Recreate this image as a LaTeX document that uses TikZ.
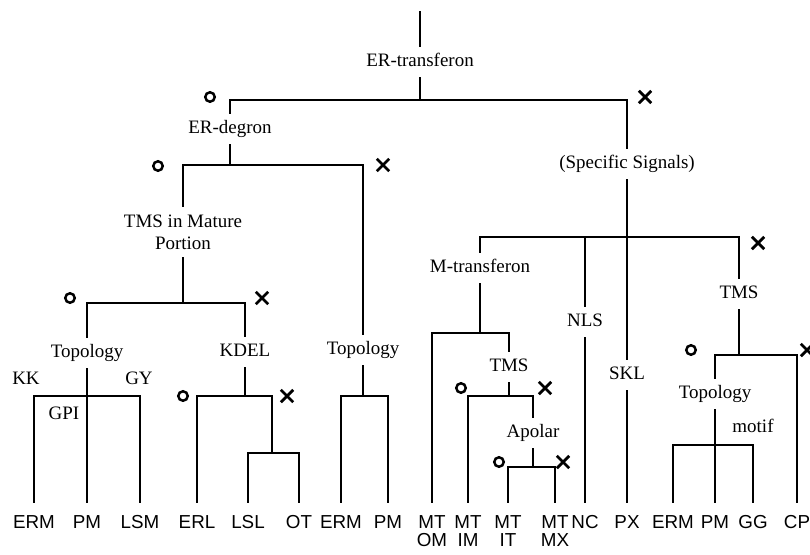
\documentclass[tikz,border=0pt]{standalone}
\usepackage{fontspec}
\setmainfont{Liberation Serif}
\newfontfamily\leaffont{Liberation Sans}
\usetikzlibrary{shapes.misc}

\begin{document}
\begin{tikzpicture}
	[x=0.02cm,y=-0.02cm,
	sig/.style={inner xsep=1pt, inner ysep=4.5pt, font=\fontsize{10.8}{12.5}\selectfont},
	lab/.style={sig, text height=7pt, text depth=2.3pt},
	leaf/.style={anchor=north, inner xsep=0pt, inner ysep=7.4pt, align=center, font=\leaffont\fontsize{10.7}{10.3}\selectfont},
	yes/.style={circle, draw, line width=1.4pt, minimum size=5.4pt, inner sep=0pt},
	no/.style={cross out, draw, line width=1.6pt, minimum size=5.4pt, inner sep=0pt}]
	\tikzstyle{edges} = [line width=1.1pt, line cap=rect];
	\clip (0,0) rectangle (810,554);

	% upper levels
	\coordinate (top) at (420,12);
	\node[lab] (ert) at (420,62) {ER-transferon};
	\coordinate (b1l) at (230,100);
	\coordinate (b1m) at (420,100);
	\coordinate (b1r) at (627,100);
	\node[lab] (erd) at (230,129) {ER-degron};
	\node[lab] (ss) at (627,164) {(Specific Signals)};
	\coordinate (b2l) at (183,165);
	\coordinate (b2m) at (230,165);
	\coordinate (b2r) at (363,165);
	\node[sig,align=center] (tms1) at (183,232) {TMS in Mature\\Portion};
	\node[lab] (topo2) at (363,350) {Topology};

	% left part
	\coordinate (b3l) at (87,303);
	\coordinate (b3m) at (183,303);
	\coordinate (b3r) at (245,303);
	\node[lab] (topo1) at (87,353) {Topology};
	\node[lab] (kdel) at (245,352) {KDEL};
	\coordinate (b4l) at (34,396);
	\coordinate (b4r) at (140,396);
	\node[lab] (kk) at (26,380) {KK};
	\node[lab] (gy) at (139,380) {GY};
	\node[lab] (gpi) at (64,415) {GPI};
	\coordinate (b5l) at (197,396);
	\coordinate (b5m) at (245,396);
	\coordinate (b5r) at (272,396);
	\coordinate (b6l) at (248,453);
	\coordinate (b6m) at (272,453);
	\coordinate (b6r) at (299,453);
	\coordinate (b7l) at (341,396);
	\coordinate (b7m) at (363,396);
	\coordinate (b7r) at (388,396);

	% right part
	\coordinate (b8l) at (480,237);
	\coordinate (b8n) at (585,237);
	\coordinate (b8r) at (739,237);
	\node[lab] (mtr) at (480,268) {M-transferon};
	\node[lab] (nls) at (585,322) {NLS};
	\node[lab] (skl) at (627,375) {SKL};
	\node[lab] (tms3) at (739,294) {TMS};
	\coordinate (b9l) at (432,333);
	\coordinate (b9m) at (480,333);
	\coordinate (b9r) at (509,333);
	\node[lab] (tms2) at (509,367) {TMS};
	\coordinate (b10l) at (468,396);
	\coordinate (b10m) at (509,396);
	\coordinate (b10r) at (533,396);
	\node[lab] (apo) at (533,433) {Apolar};
	\coordinate (b11l) at (508,467);
	\coordinate (b11m) at (533,467);
	\coordinate (b11r) at (555,467);
	\coordinate (b12l) at (715,355);
	\coordinate (b12m) at (739,355);
	\coordinate (b12r) at (797,355);
	\node[lab] (topo3) at (715,394) {Topology};
	\node[lab] (motif) at (753,428) {motif};
	\coordinate (b13l) at (673,445);
	\coordinate (b13r) at (753,445);

	% leaves
	\node[leaf] (erm1) at (34,502) {ERM};
	\node[leaf] (pm1) at (87,502) {PM};
	\node[leaf] (lsm) at (140,502) {LSM};
	\node[leaf] (erl) at (197,502) {ERL};
	\node[leaf] (lsl) at (248,502) {LSL};
	\node[leaf] (ot) at (299,502) {OT};
	\node[leaf] (erm2) at (341,502) {ERM};
	\node[leaf] (pm2) at (388,502) {PM};
	\node[leaf] (mtom) at (432,502) {MT\\OM};
	\node[leaf] (mtim) at (468,502) {MT\\IM};
	\node[leaf] (mtit) at (508,502) {MT\\IT};
	\node[leaf] (mtmx) at (555,502) {MT\\MX};
	\node[leaf] (nc) at (585,502) {NC};
	\node[leaf] (px) at (627,502) {PX};
	\node[leaf] (erm3) at (673,502) {ERM};
	\node[leaf] (pm3) at (715,502) {PM};
	\node[leaf] (gg) at (753,502) {GG};
	\node[leaf] (cp) at (797,502) {CP};

	% o / x marks
	\node[yes] (y1) at (210,97) {};
	\node[no] (n1) at (645,97) {};
	\node[yes] (y2) at (158,166) {};
	\node[no] (n2) at (383,165) {};
	\node[yes] (y3) at (70,298) {};
	\node[no] (n3) at (262,298) {};
	\node[yes] (y4) at (183,396) {};
	\node[no] (n4) at (287,396) {};
	\node[no] (n5) at (758,243) {};
	\node[yes] (y6) at (461,388) {};
	\node[no] (n6) at (545,388) {};
	\node[yes] (y7) at (499,462) {};
	\node[no] (n7) at (563,462) {};
	\node[yes] (y8) at (691,350) {};
	\node[no] (n8) at (807,350) {};

	\draw[edges] (top) -- (ert);
	\draw[edges] (ert) -- (b1m);
	\draw[edges] (b1l) -- (b1r);
	\draw[edges] (b1l) -- (erd);
	\draw[edges] (b1r) -- (ss);
	\draw[edges] (erd) -- (b2m);
	\draw[edges] (b2l) -- (b2r);
	\draw[edges] (b2l) -- (tms1);
	\draw[edges] (b2r) -- (topo2);
	\draw[edges] (tms1) -- (b3m);
	\draw[edges] (b3l) -- (b3r);
	\draw[edges] (b3l) -- (topo1);
	\draw[edges] (b3r) -- (kdel);
	\draw[edges] (topo1) -- (pm1);
	\draw[edges] (b4l) -- (b4r);
	\draw[edges] (b4l) -- (erm1);
	\draw[edges] (b4r) -- (lsm);
	\draw[edges] (kdel) -- (b5m);
	\draw[edges] (b5l) -- (b5r);
	\draw[edges] (b5l) -- (erl);
	\draw[edges] (b5r) -- (b6m);
	\draw[edges] (b6l) -- (b6r);
	\draw[edges] (b6l) -- (lsl);
	\draw[edges] (b6r) -- (ot);
	\draw[edges] (topo2) -- (b7m);
	\draw[edges] (b7l) -- (b7r);
	\draw[edges] (b7l) -- (erm2);
	\draw[edges] (b7r) -- (pm2);
	\draw[edges] (ss) -- (skl);
	\draw[edges] (skl) -- (px);
	\draw[edges] (b8l) -- (b8r);
	\draw[edges] (b8l) -- (mtr);
	\draw[edges] (b8n) -- (nls);
	\draw[edges] (nls) -- (nc);
	\draw[edges] (b8r) -- (tms3);
	\draw[edges] (mtr) -- (b9m);
	\draw[edges] (b9l) -- (b9r);
	\draw[edges] (b9l) -- (mtom);
	\draw[edges] (b9r) -- (tms2);
	\draw[edges] (tms2) -- (b10m);
	\draw[edges] (b10l) -- (b10r);
	\draw[edges] (b10l) -- (mtim);
	\draw[edges] (b10r) -- (apo);
	\draw[edges] (apo) -- (b11m);
	\draw[edges] (b11l) -- (b11r);
	\draw[edges] (b11l) -- (mtit);
	\draw[edges] (b11r) -- (mtmx);
	\draw[edges] (tms3) -- (b12m);
	\draw[edges] (b12l) -- (b12r);
	\draw[edges] (b12l) -- (topo3);
	\draw[edges] (b12r) -- (cp);
	\draw[edges] (topo3) -- (pm3);
	\draw[edges] (b13l) -- (b13r);
	\draw[edges] (b13l) -- (erm3);
	\draw[edges] (b13r) -- (gg);
\end{tikzpicture}
\end{document}
